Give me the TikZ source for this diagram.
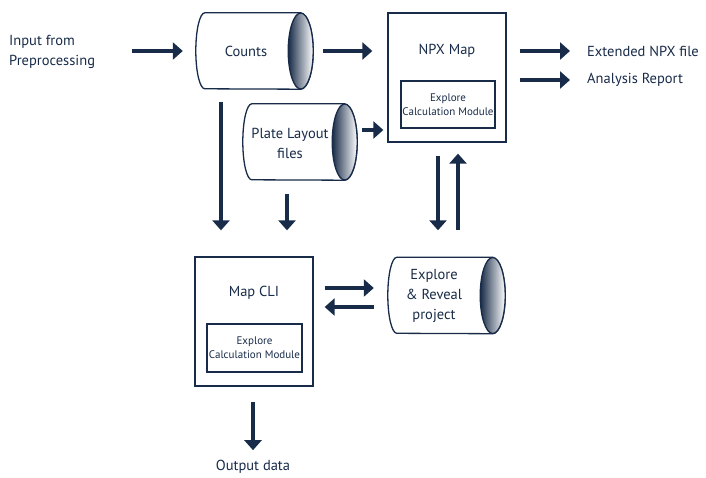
\documentclass[tikz,border=0pt]{standalone}
\usepackage{fontspec}
\setmainfont{PT Sans}
\usetikzlibrary{arrows.meta,calc}
\definecolor{navy}{RGB}{24,43,72}
\newcommand\cylshape[1]{%
  \draw[navy,line width=1.3pt,fill=white] ($(#1.north east)+(-12.5,0)$) -- ($(#1.north west)+(9,0)$)
    arc[start angle=90,end angle=270,x radius=9,y radius=38] -- ($(#1.south east)+(-12.5,0)$)
    arc[start angle=-90,end angle=90,x radius=12.5,y radius=38] -- cycle;
  \shade[left color=navy,right color=white] ($(#1.east)+(-12.5,0)$) ellipse[x radius=12.5,y radius=38];
  \draw[navy,line width=1.3pt] ($(#1.east)+(-12.5,0)$) ellipse[x radius=12.5,y radius=38];
}
\begin{document}
\begin{tikzpicture}[x=1pt,y=1pt,
  font=\fontsize{14.5}{20}\selectfont, text=navy,
  box/.style={draw=navy,line width=1.3pt,minimum width=118pt,minimum height=129pt,inner sep=0},
  inbox/.style={draw=navy,line width=1.3pt,inner sep=0,align=center,font=\fontsize{11}{14}\selectfont},
  cylbody/.style={inner sep=0,minimum height=76pt},
  lbl/.style={align=center,inner sep=0},
  arr/.style={draw=navy,line width=3.6pt,-{Triangle[width=17pt,length=10pt]}}
]
\useasboundingbox (0,0) rectangle (706,477);
% cylinders
\node[cylbody,minimum width=117pt] (counts) at (254.5,426) {};
\node[cylbody,minimum width=114pt] (plate) at (300,335) {};
\node[cylbody,minimum width=117pt] (explore) at (446.5,181.5) {};
\cylshape{counts}
\cylshape{plate}
\cylshape{explore}
\node[lbl] (countst) at (246,426) {Counts};
\node[lbl] (platet) at (290,334) {Plate Layout\\files};
\node[lbl] (exploret) at (434,181.5) {Explore\\\&~Reveal\\project};
% boxes
\node[box] (npx) at (447,399.5) {};
\node[lbl] (npxt) at (447,426) {NPX Map};
\node[inbox,minimum width=94pt,minimum height=47pt] (npxin) at (448,372.5) {Explore\\Calculation Module};
\node[box] (cli) at (254,155.5) {};
\node[lbl] (clit) at (254,184) {Map CLI};
\node[inbox,minimum width=95pt,minimum height=48pt] (cliin) at (254.5,129) {Explore\\Calculation Module};
% texts
\node[lbl,align=left,anchor=west] (input) at (9,425) {Input from\\Preprocessing};
\node[lbl,anchor=west] (ext) at (587,426) {Extended NPX file};
\node[lbl,anchor=west] (analysis) at (587,397) {Analysis Report};
\node[lbl] (out) at (253,10) {Output data};
% connectors
\coordinate (a1) at ([xshift=-64pt]counts.west);
\draw[arr,shorten >=13pt] (a1) -- (counts.west);
\draw[arr,shorten <=10pt,shorten >=15pt] (counts.east) -- (npx.west |- counts.east);
\coordinate (p3) at ([yshift=12pt]plate.east);
\draw[arr,shorten <=5pt,shorten >=4pt] (p3) -- (p3 -| npx.west);
\draw[arr,shorten <=13pt,shorten >=17pt] (npx.east |- ext.west) -- (ext.west);
\draw[arr,shorten <=13pt,shorten >=17pt] (npx.east |- analysis.west) -- (analysis.west);
\draw[arr,shorten <=13pt,shorten >=26pt] ([xshift=-33.5pt]counts.south) -- ([xshift=-33.5pt]counts.south |- cli.north);
\draw[arr,shorten <=14pt,shorten >=26pt] ([xshift=-13pt]plate.south) -- ([xshift=-13pt]plate.south |- cli.north);
\draw[arr,shorten <=13pt,shorten >=27pt] ([xshift=-9pt]npx.south) -- ([xshift=-9pt]npx.south |- explore.north);
\draw[arr,shorten <=27pt,shorten >=11pt] ([xshift=11pt]npx.south |- explore.north) -- ([xshift=11pt]npx.south);
\coordinate (a10) at ([yshift=33.5pt]cli.east);
\draw[arr,shorten <=11pt,shorten >=14pt] (a10) -- (a10 -| explore.west);
\coordinate (a11) at ([yshift=14.5pt]cli.east);
\draw[arr,shorten <=14pt,shorten >=11pt] (a11 -| explore.west) -- (a11);
\draw[arr,shorten <=15pt,shorten >=10pt] ([xshift=-1pt]cli.south) -- ([xshift=-1pt]cli.south |- out.north);
\end{tikzpicture}
\end{document}
